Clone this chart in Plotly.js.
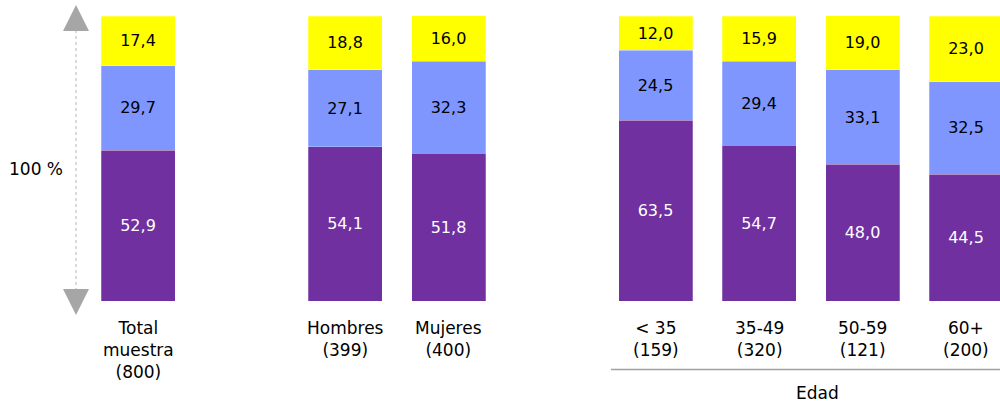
<!DOCTYPE html>
<html>
<head>
<meta charset="utf-8">
<script src="https://cdn.plot.ly/plotly-3.0.1.min.js"></script>
<style>html,body{margin:0;padding:0;background:#fff;}#chart{width:1000px;height:404px;}</style>
</head>
<body>
<div id="chart"></div>
<script>
// ---- data ----
const categories = ["Total<br>muestra<br>(800)", "Hombres<br>(399)", "Mujeres<br>(400)", "< 35<br>(159)", "35-49<br>(320)", "50-59<br>(121)", "60+<br>(200)"];
const purpleVals = [52.9, 54.1, 51.8, 63.5, 54.7, 48.0, 44.5];
const blueVals   = [29.7, 27.1, 32.3, 24.5, 29.4, 33.1, 32.5];
const yellowVals = [17.4, 18.8, 16.0, 12.0, 15.9, 19.0, 23.0];
const groupLabel = "Edad";
const axisLabel = "100 %";

// ---- layout helpers (positions on the numeric x axis) ----
const xpos = [0, 2, 3, 5, 6, 7, 8];
const fmt = v => v.toFixed(1).replace('.', ',');
const W = 1000, H = 404, T = 16, B = 103;
const plotH = H - T - B;
const py = p => (H - B - p) / plotH;   // pixel y -> paper y
const px = p => p / W;                 // pixel x -> paper x

const textFont = {family: "DejaVu Sans", size: 16};
function mk(vals, color, tcolor) {
  return {
    type: 'bar', x: xpos, y: vals, width: 0.715,
    marker: {color: color, line: {color: 'rgba(255,255,255,0.5)', width: 0.5}},
    text: vals.map(fmt), textposition: 'inside', insidetextanchor: 'middle',
    textfont: Object.assign({color: tcolor}, textFont),
    hoverinfo: 'skip', cliponaxis: true
  };
}
const data = [
  mk(purpleVals, '#7030A0', '#ffffff'),
  mk(blueVals, '#7F96FF', '#000000'),
  mk(yellowVals, '#FFFF00', '#000000')
];

const annotations = categories.map((c, i) => ({
  x: xpos[i], y: py(316), xref: 'x', yref: 'paper', text: c, showarrow: false,
  xanchor: 'center', yanchor: 'top', align: 'center',
  font: {family: "DejaVu Sans", size: 17, color: '#000'}
}));
annotations.push({x: px(817), y: py(393), xref: 'paper', yref: 'paper', text: groupLabel,
  showarrow: false, xanchor: 'center', yanchor: 'middle', font: {family: "DejaVu Sans", size: 17, color: '#000'}});
annotations.push({x: px(36), y: py(169), xref: 'paper', yref: 'paper', text: axisLabel,
  showarrow: false, xanchor: 'center', yanchor: 'middle', font: {family: "DejaVu Sans", size: 17, color: '#000'}});

const tri = (pts) => 'M ' + pts.map(p => px(p[0]) + ',' + py(p[1])).join(' L ') + ' Z';
const shapes = [
  {type: 'line', xref: 'paper', yref: 'paper', x0: px(76), x1: px(76), y0: py(30), y1: py(290),
   line: {color: '#b5b5b5', width: 1, dash: 'dot'}},
  {type: 'path', xref: 'paper', yref: 'paper', path: tri([[76, 5], [89, 31], [63, 31]]),
   fillcolor: '#a6a6a6', line: {width: 0}},
  {type: 'path', xref: 'paper', yref: 'paper', path: tri([[63, 289], [89, 289], [76, 315]]),
   fillcolor: '#a6a6a6', line: {width: 0}},
  {type: 'line', xref: 'paper', yref: 'paper', x0: px(611), x1: 1, y0: py(369.5), y1: py(369.5),
   line: {color: '#a0a0a0', width: 1.5}}
];

const layout = {
  width: W, height: H, margin: {l: 0, r: 0, t: T, b: B},
  barmode: 'stack', showlegend: false,
  paper_bgcolor: '#fff', plot_bgcolor: '#fff',
  xaxis: {range: [-138/103.5, 8 + 34/103.5], showgrid: false, zeroline: false, showticklabels: false, showline: false, fixedrange: true},
  yaxis: {range: [0, 100], showgrid: false, zeroline: false, showticklabels: false, showline: false, fixedrange: true},
  annotations: annotations, shapes: shapes,
  uniformtext: {mode: false}
};
Plotly.newPlot('chart', data, layout, {displayModeBar: false, staticPlot: true});
</script>
</body>
</html>
